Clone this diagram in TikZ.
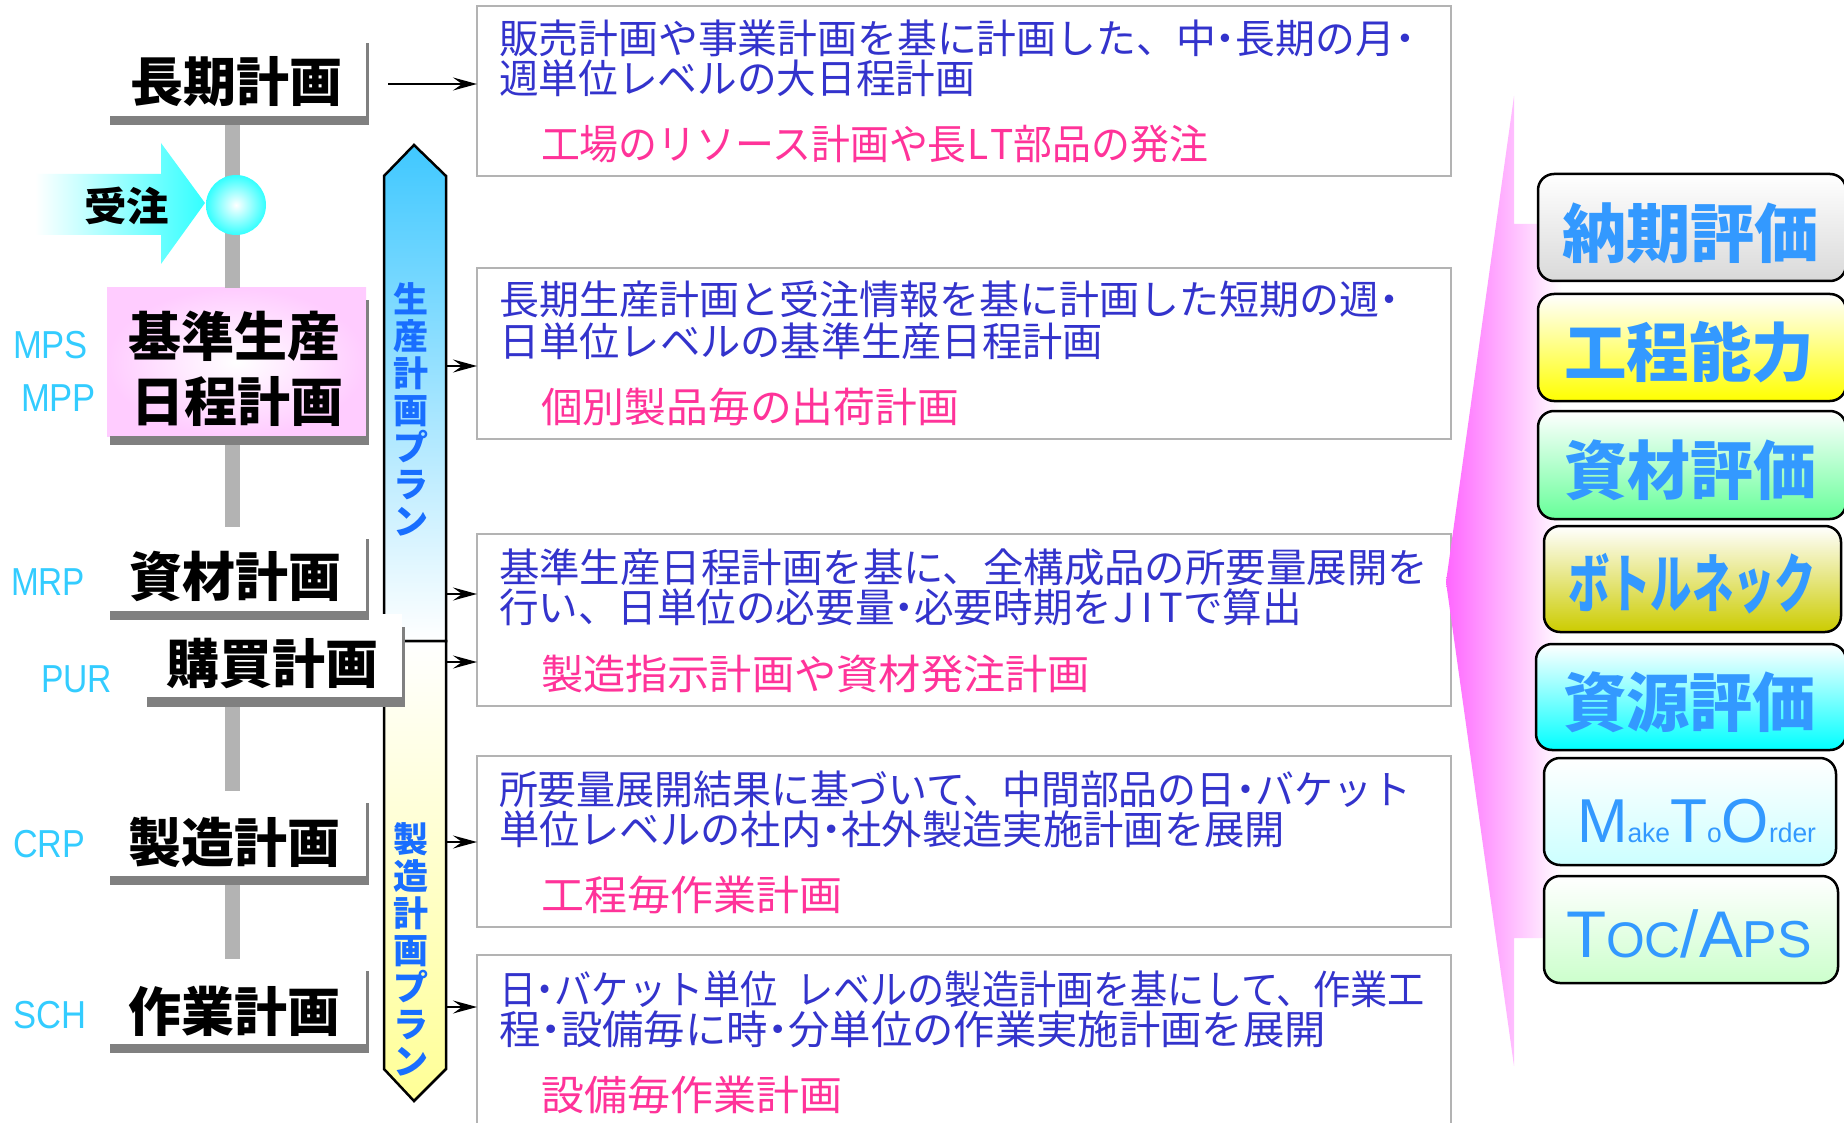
\documentclass[tikz,border=0pt]{standalone}
\usepackage{fontspec}
\usepackage{graphicx}
\usetikzlibrary{calc,arrows.meta}
\newfontfamily\jp{Noto Sans CJK JP}
\newfontfamily\lat{Liberation Sans}
\definecolor{boxtext}{RGB}{51,51,204}
\definecolor{pinktext}{RGB}{255,51,153}
\definecolor{labcyan}{RGB}{51,204,255}
\definecolor{vblue}{RGB}{25,110,255}
\definecolor{evalblue}{RGB}{51,153,255}
\definecolor{shadowgray}{RGB}{128,128,128}
\definecolor{bargray}{RGB}{179,179,179}
\definecolor{boxgray}{RGB}{179,179,179}
\definecolor{pinkL}{RGB}{255,102,255}
\definecolor{pinkbox}{RGB}{255,204,255}
\definecolor{jcyan}{RGB}{51,255,255}
\definecolor{arrblue}{RGB}{64,200,255}
\definecolor{arryel}{RGB}{255,255,150}
\definecolor{evgray}{RGB}{217,217,217}
\definecolor{evyel}{RGB}{255,255,0}
\definecolor{evgreen}{RGB}{102,255,153}
\definecolor{evolive}{RGB}{204,204,0}
\definecolor{evcyan}{RGB}{0,255,255}
\definecolor{evlcyan}{RGB}{204,255,255}
\definecolor{evlgreen}{RGB}{204,255,204}
\newcommand\fitto[2]{\resizebox{#1pt}{\height}{#2}}
\newcommand\hd[1]{\makebox[0.5em][c]{#1}}
\newcommand\hw[1]{\makebox[0.6em][c]{#1}}
\begin{document}
\begin{tikzpicture}[x=1pt,y=-1pt,
  every node/.style={inner sep=0pt,outer sep=0pt},
  btext/.style={anchor=base west,font=\jp\fontsize{40}{40}\selectfont,text=boxtext},
  ptext/.style={anchor=base west,font=\jp\fontsize{41}{41}\selectfont,text=pinktext},
  lab/.style={anchor=base,font=\jp\bfseries\fontsize{53}{53}\selectfont,text=black},
  abbr/.style={anchor=base west,font=\lat\fontsize{39}{39}\selectfont,text=labcyan},
  evtext/.style={anchor=base west,font=\jp\bfseries\fontsize{64}{64}\selectfont,text=evalblue},
  vtext/.style={anchor=north,align=center,font=\jp\bfseries\fontsize{35}{37}\selectfont,text=vblue},
  tbox/.style={draw=boxgray,line width=2.2pt,fill=white,anchor=north west,minimum width=974pt},
  arr/.style={line width=2pt,-{Stealth[length=24pt,width=13pt,inset=9pt]}},
  evalbox/.style={draw=black,line width=2.5pt,rounded corners=16pt,anchor=north west},
  whitebox/.style={fill=white,anchor=north west},
  shadowbar/.style={fill=shadowgray}]
\useasboundingbox (0,0) rectangle (1844,1123);
\fill[white] (0,0) rectangle (1844,1123);

% right text boxes
\node[tbox,minimum height=170pt] (box1) at (477,6) {};
\node[tbox,minimum height=171pt] (box2) at (477,268) {};
\node[tbox,minimum height=172pt] (box3) at (477,534) {};
\node[tbox,minimum height=171pt] (box4) at (477,756) {};
\node[tbox,minimum height=200pt] (box5) at (477,955) {};

% pink callout
\shade[left color=pinkL,right color=white] (1514,96) -- (1514,224) -- (1562,224) -- (1562,938) -- (1514,938) -- (1514,1066) -- (1446,582) -- cycle;

% left label boxes
\node[whitebox,minimum width=259pt,minimum height=85pt] (chouki) at (107,31) {};
\node[anchor=north west,minimum width=259pt,minimum height=148pt,inner color=white,outer color=pinkbox] (kijun) at (107,288) {};
\node[whitebox,minimum width=259pt,minimum height=84pt] (shizai) at (107,527) {};
\node[whitebox,minimum width=259pt,minimum height=85pt] (seizou) at (107,791) {};
\node[whitebox,minimum width=259pt,minimum height=85pt] (sagyou) at (107,959) {};

% gray connector
\draw[bargray,line width=15pt] ($(chouki.south)+(-4,5)$) -- ($(kijun.north)+(-4,0)$);
\draw[bargray,line width=15pt] ($(kijun.south)+(-4,5)$) -- ($(shizai.north)+(-4,0)$);
\draw[bargray,line width=15pt] ($(shizai.south)+(-4,5)$) -- ($(seizou.north)+(-4,0)$);
\draw[bargray,line width=15pt] ($(seizou.south)+(-4,5)$) -- ($(sagyou.north)+(-4,0)$);

% juchu arrow and ball
\shade[left color=white,right color=jcyan] (35,174) -- (161,174) -- (161,143) -- (205,203) -- (161,264) -- (161,235) -- (35,235) -- cycle;
\node[circle,minimum size=60pt,inner color=white,outer color=jcyan] (ball) at (236,205) {};
\node[anchor=base west,font=\jp\bfseries\fontsize{40}{40}\selectfont] (juchu) at (84,222) {\fitto{85}{受注}};

% vertical plan arrows
\filldraw[draw=black,line width=2.5pt,top color=arrblue,bottom color=white] (384,641) -- (384,176) -- (414,145) -- (446,176) -- (446,641) -- cycle;
\filldraw[draw=black,line width=2.5pt,top color=white,bottom color=arryel] (384,641) -- (446,641) -- (446,1069) -- (414,1101) -- (384,1069) -- cycle;
\node[vtext] (vt1) at (410.5,283) {生\\産\\計\\画\\プ\\ラ\\ン};
\node[vtext] (vt2) at (410.5,823) {製\\造\\計\\画\\プ\\ラ\\ン};

% kobai box on top of arrow
\node[whitebox,minimum width=258pt,minimum height=83pt] (kobai) at (144,614) {};
\fill[shadowbar] ($(kobai.north east)+(0,13)$) rectangle ($(kobai.south east)+(3,10)$);
\fill[shadowbar] ($(kobai.south west)+(3,0)$) rectangle ($(kobai.south east)+(3,10)$);

% shadows of the other label boxes (drawn over the kobai box)
\foreach \b in {chouki,kijun,shizai,seizou,sagyou}{
  \fill[shadowbar] ($(\b.north east)+(0,12)$) rectangle ($(\b.south east)+(3,9)$);
  \fill[shadowbar] ($(\b.south west)+(3,0)$) rectangle ($(\b.south east)+(3,9)$);
}

% small arrows
\coordinate (r1) at (388,84);
\coordinate (r2) at (446,366);
\coordinate (r3) at (446,594);
\coordinate (r4) at (446,662);
\coordinate (r5) at (446,842);
\coordinate (r6) at (446,1007);
\draw[arr] (r1) -- (r1 -| box1.west);
\draw[arr] (r2) -- (r2 -| box2.west);
\draw[arr] (r3) -- (r3 -| box3.west);
\draw[arr] (r4) -- (r4 -| box3.west);
\draw[arr] (r5) -- (r5 -| box4.west);
\draw[arr] (r6) -- (r6 -| box5.west);

% eval boxes
\node[evalbox,top color=white,bottom color=evgray,minimum width=308pt,minimum height=107pt] (ev1) at (1538,174) {};
\node[evalbox,top color=white,bottom color=evyel,minimum width=308pt,minimum height=107pt] (ev2) at (1538,294) {};
\node[evalbox,top color=white,bottom color=evgreen,minimum width=308pt,minimum height=108pt] (ev3) at (1538,411) {};
\node[evalbox,top color=white,bottom color=evolive,minimum width=297pt,minimum height=106pt] (ev4) at (1544,526) {};
\node[evalbox,top color=white,bottom color=evcyan,minimum width=310pt,minimum height=106pt] (ev5) at (1536,644) {};
\node[evalbox,top color=white,bottom color=evlcyan,minimum width=292pt,minimum height=107pt] (ev6) at (1544,758) {};
\node[evalbox,top color=white,bottom color=evlgreen,minimum width=294pt,minimum height=107pt] (ev7) at (1544,876) {};

\node[evtext] (et1) at (1562,258) {\fitto{257}{納期評価}};
\node[evtext] (et2) at (1564,376) {\fitto{250}{工程能力}};
\node[evtext] (et3) at (1564,494) {\fitto{252}{資材評価}};
\node[evtext] (et4) at (1568,607) {\fitto{248}{ボトルネック}};
\node[evtext] (et5) at (1563,726) {\fitto{253}{資源評価}};
\node[anchor=base west,font=\lat,text=evalblue] (et6) at (1577,842) {\fitto{239}{{\fontsize{62}{62}\selectfont M}{\fontsize{27}{27}\selectfont ake}{\fontsize{62}{62}\selectfont T}{\fontsize{27}{27}\selectfont o}{\fontsize{62}{62}\selectfont O}{\fontsize{27}{27}\selectfont rder}}};
\node[anchor=base west,font=\lat,text=evalblue] (et7) at (1566,957) {\fitto{246}{{\fontsize{66}{66}\selectfont T}{\fontsize{50}{50}\selectfont OC}{\fontsize{66}{66}\selectfont /A}{\fontsize{52}{52}\selectfont PS}}};

% left labels
\node[lab] (t1) at (236.5,102) {長期計画};
\node[lab] (t2a) at (234.5,356) {基準生産};
\node[lab] (t2b) at (237.5,421) {日程計画};
\node[lab] (t3) at (235,596) {資材計画};
\node[lab] (t4) at (272,683) {購買計画};
\node[lab] (t5) at (234,862) {製造計画};
\node[lab] (t6) at (234,1031) {作業計画};

\node[abbr] (a1) at (13,358) {\fitto{75}{MPS}};
\node[abbr] (a2) at (21,411) {\fitto{75}{MPP}};
\node[abbr] (a3) at (11,595) {\fitto{74}{MRP}};
\node[abbr] (a4) at (41,692) {\fitto{71}{PUR}};
\node[abbr] (a5) at (13,857) {\fitto{72}{CRP}};
\node[abbr] (a6) at (13,1028) {\fitto{73}{SCH}};

% box texts
\node[btext] (b1a) at (499,54) {\fitto{916}{販売計画や事業計画を基に計画した、中\hd{・}長期の月\hd{・}}};
\node[btext] (b1b) at (499,94) {\fitto{476}{週単位レベルの大日程計画}};
\node[ptext] (b1p) at (541,160) {\fitto{667}{工場のリソース計画や長\hw{L}\hw{T}部品の発注}};

\node[btext] (b2a) at (499,315) {\fitto{900}{長期生産計画と受注情報を基に計画した短期の週\hd{・}}};
\node[btext] (b2b) at (499,356) {\fitto{604}{日単位レベルの基準生産日程計画}};
\node[ptext] (b2p) at (541,422) {\fitto{418}{個別製品毎の出荷計画}};

\node[btext] (b3a) at (499,582) {\fitto{929}{基準生産日程計画を基に、全構成品の所要量展開を}};
\node[btext] (b3b) at (499,622) {\fitto{803}{行い、日単位の必要量\hd{・}必要時期を\hw{J}\hw{I}\hw{T}で算出}};
\node[ptext] (b3p) at (541,689) {\fitto{549}{製造指示計画や資材発注計画}};

\node[btext] (b4a) at (499,804) {\fitto{912}{所要量展開結果に基づいて、中間部品の日\hd{・}バケット}};
\node[btext] (b4b) at (499,844) {\fitto{786}{単位レベルの社内\hd{・}社外製造実施計画を展開}};
\node[ptext] (b4p) at (541,910) {\fitto{301}{工程毎作業計画}};

\node[btext] (b5a) at (499,1004) {\fitto{926}{日\hd{・}バケット単位\hspace{0.5em}レベルの製造計画を基にして、作業工}};
\node[btext] (b5b) at (499,1044) {\fitto{827}{程\hd{・}設備毎に時\hd{・}分単位の作業実施計画を展開}};
\node[ptext] (b5p) at (541,1110) {\fitto{301}{設備毎作業計画}};
\end{tikzpicture}
\end{document}
